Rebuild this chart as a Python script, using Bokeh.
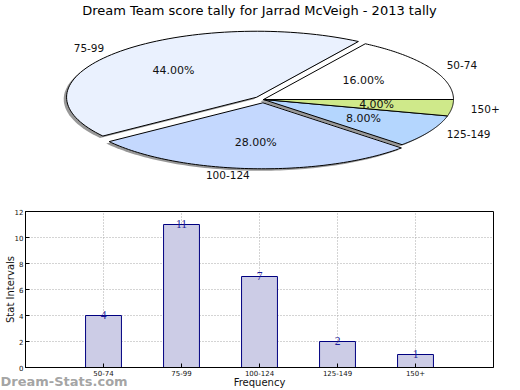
import numpy as np
from bokeh.plotting import figure
from bokeh.layouts import column
from bokeh.models import Range1d, Label, FixedTicker, FactorRange, ColumnDataSource, LabelSet
from bokeh.embed import file_html
from bokeh.resources import INLINE

# ---------------- data ----------------
title_text = "Dream Team score tally for Jarrad McVeigh - 2013 tally"
categories = ["50-74", "75-99", "100-124", "125-149", "150+"]
counts = [4, 11, 7, 2, 1]
explode = [0.0, 0.05, 0.05, 0.0, 0.0]
pie_colors = ["#ffffff", "#eaf1fe", "#c4d8fe", "#b4d6fe", "#cfe98a"]
bar_fill = "#ccccE6"
bar_edge = "#000080"
y_ticks = [0, 2, 4, 6, 8, 10, 12]
x_label = "Frequency"
y_label = "Stat Intervals"
watermark = "Dream-Stats.com"

FONT = "DejaVu Sans"
W = 520

# ---------------- pie ----------------
PH = 194
cx_px, cy_px = 263, 99      # pie centre in picture pixels
rx_px, ry_px = 190, 66      # pixels per unit
xr = Range1d(-cx_px / rx_px, (W - cx_px) / rx_px)
yr = Range1d(-(PH - cy_px) / ry_px, cy_px / ry_px)

pie = figure(width=W, height=PH, x_range=xr, y_range=yr, output_backend="svg",
             toolbar_location=None, min_border=0, outline_line_color=None)
pie.frame_align = False
pie.axis.visible = False
pie.grid.visible = False

total = float(sum(counts))
fracs = [c / total for c in counts]
starts = np.concatenate([[0.0], np.cumsum(fracs)[:-1]]) * 360.0
ends = np.cumsum(fracs) * 360.0

sh_xs, sh_ys, xs, ys = [], [], [], []
for a0, a1, ex in zip(starts, ends, explode):
    mid = np.radians((a0 + a1) / 2)
    ox, oy = ex * np.cos(mid), ex * np.sin(mid)
    t = np.radians(np.linspace(a0, a1, 80))
    px = np.concatenate([[ox], ox + np.cos(t)])
    py = np.concatenate([[oy], oy + np.sin(t)])
    xs.append(list(px)); ys.append(list(py))
    sh_xs.append(list(px - 0.015)); sh_ys.append(list(py - 0.03))

pie.patches(sh_xs, sh_ys, fill_color="#444444", fill_alpha=0.55, line_color=None)
pie.patches(xs, ys, fill_color=pie_colors, line_color="black", line_width=1)

for a0, a1, ex, cat, f in zip(starts, ends, explode, categories, fracs):
    mid = np.radians((a0 + a1) / 2)
    c, s = np.cos(mid), np.sin(mid)
    lx, ly = (1.1 + ex) * c, (1.1 + ex) * s
    pie.add_layout(Label(x=lx, y=ly, text=cat, text_font=FONT, text_font_size="10.5px",
                         text_align="left" if lx > 0 else "right", text_baseline="middle",
                         text_color="#111111"))
    qx, qy = (0.6 + ex) * c, (0.6 + ex) * s
    pie.add_layout(Label(x=qx, y=qy, text="%.2f%%" % (f * 100), text_font=FONT,
                         text_font_size="11px", text_align="center", text_baseline="middle",
                         text_color="#111111"))

pie.add_layout(Label(x=(259 - cx_px) / rx_px, y=(cy_px - 10) / ry_px, text=title_text,
                     text_font=FONT, text_font_size="13px", text_align="center",
                     text_baseline="middle", text_color="#000000"))

# ---------------- bars ----------------
BH = 390 - PH
fl, fr, ft, fb = 25, 27, 17, 21
bar = figure(width=W, height=BH, output_backend="svg", toolbar_location=None,
             x_range=FactorRange(*categories, range_padding=0.2),
             y_range=Range1d(0, 12),
             min_border_left=fl, min_border_right=fr, min_border_top=ft, min_border_bottom=fb,
             outline_line_color="black", outline_line_width=1)
bar.frame_align = False
src = ColumnDataSource(dict(cat=categories, val=counts, txt=[str(c) for c in counts]))
bar.vbar(x="cat", top="val", width=0.46, source=src, fill_color=bar_fill,
         line_color=bar_edge, line_width=1)
bar.add_layout(LabelSet(x="cat", y="val", text="txt", source=src, text_align="center",
                        text_baseline="bottom", y_offset=-3, text_font=FONT,
                        text_font_size="11.5px", text_color="#1c1c9a"))

bar.yaxis.ticker = FixedTicker(ticks=y_ticks)
for ax in (bar.xaxis[0], bar.yaxis[0]):
    ax.major_tick_in = 4
    ax.major_tick_out = 0
    ax.minor_tick_line_color = None
    ax.major_label_text_font = FONT
    ax.major_label_text_font_size = "7px"
    ax.major_label_standoff = 2
    ax.axis_line_color = "black"
    ax.major_tick_line_color = "black"
    ax.major_label_text_color = "#111111"
    ax.axis_label_text_font = FONT
    ax.axis_label_text_font_size = "10px"
    ax.axis_label_text_font_style = "normal"
    ax.axis_label_text_color = "#111111"
bar.yaxis.axis_label = y_label
bar.yaxis.axis_label_standoff = -4
bar.xaxis.axis_label = x_label
bar.xaxis.axis_label_standoff = -2

bar.grid.grid_line_color = "#a8a8a8"
bar.grid.grid_line_dash = "1 2"
bar.grid.grid_line_width = 1

# watermark placed in a side panel (so it is not clipped to the plot frame),
# drawn at canvas coordinates in the lower-left corner
bar.add_layout(Label(x=0, y=381 - PH, x_units="canvas", y_units="canvas", text=watermark,
                     text_font=FONT, text_font_size="13px", text_font_style="bold",
                     text_align="left", text_baseline="middle", text_color="#999999",
                     text_alpha=0.9), "above")

layout = column(pie, bar, spacing=0)
open("out.html", "w").write(file_html(layout, INLINE))
